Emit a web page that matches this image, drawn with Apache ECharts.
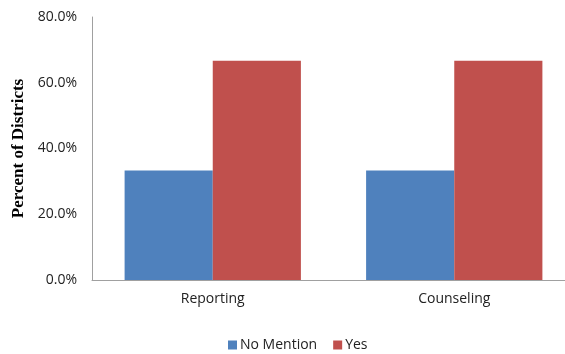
<!DOCTYPE html>
<html><head><meta charset="utf-8">
<script src="https://cdn.jsdelivr.net/npm/echarts@6/dist/echarts.min.js"></script>
<style>html,body{margin:0;padding:0;background:#fff}#c{width:565px;height:354px}</style>
</head><body><div id="c"></div>
<script>
const categories = ['Reporting', 'Counseling'];
const noMention = [33.3, 33.3];
const yes = [66.7, 66.7];
const yTicks = [0, 20, 40, 60, 80];

const chart = echarts.init(document.getElementById('c'), null, {renderer: 'canvas'});
const font = 'Open Sans';
chart.setOption({
  animation: false,
  grid: {left: 92, top: 17, width: 483, height: 263, containLabel: false, outerBoundsMode: 'none'},
  legend: {
    top: 333, left: 223, itemWidth: 9, itemHeight: 9, itemGap: 16,
    icon: 'rect',
    textStyle: {fontFamily: font, fontSize: 14, color: '#222', padding: [0,0,0,-2]},
    data: ['No Mention', 'Yes']
  },
  xAxis: {
    type: 'category', data: categories,
    axisLine: {lineStyle: {color: '#a0a0a0', width: 1}},
    axisTick: {show: false},
    axisLabel: {fontFamily: font, fontSize: 14, color: '#222', margin: 12}
  },
  yAxis: {
    type: 'value', min: 0, max: 80, interval: 20,
    name: 'Percent of Districts', nameLocation: 'middle', nameGap: 57,
    nameTextStyle: {fontFamily: 'Liberation Serif', fontWeight: 'bold', fontSize: 17, color: '#000'},
    axisLine: {show: true, lineStyle: {color: '#a0a0a0', width: 1}},
    axisTick: {show: false},
    splitLine: {show: false},
    axisLabel: {fontFamily: font, fontSize: 14, color: '#222', margin: 15,
      formatter: v => v.toFixed(1) + '%'}
  },
  series: [
    {name: 'No Mention', type: 'bar', data: noMention, barGap: '0%', barCategoryGap: '27%',
     itemStyle: {color: '#4f81bd'}},
    {name: 'Yes', type: 'bar', data: yes, barGap: '0%', barCategoryGap: '27%',
     itemStyle: {color: '#c0504d'}}
  ]
});
</script></body></html>
